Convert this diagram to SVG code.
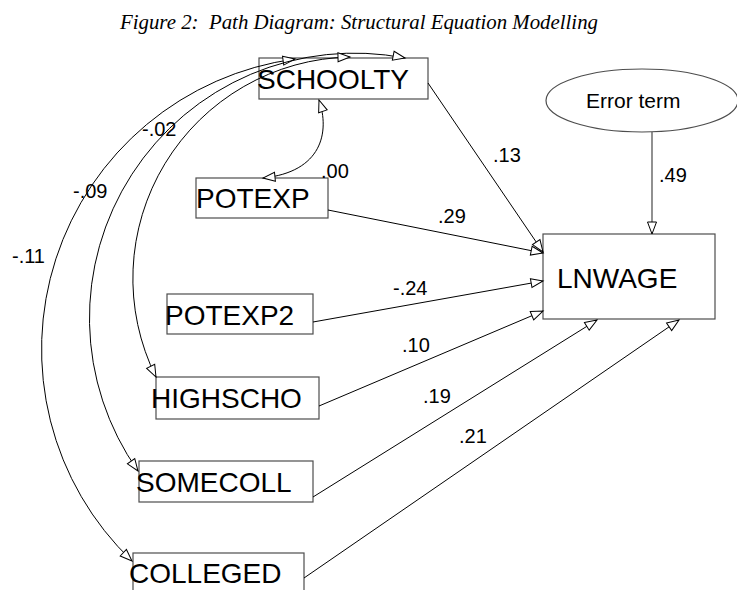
<svg xmlns="http://www.w3.org/2000/svg" width="737" height="590" viewBox="0 0 737 590">
<style>
.bg{fill:#fff}
.box{fill:#fff;stroke:#4d4d4d;stroke-width:1.2}
.nt{font-family:"Liberation Sans",Arial,sans-serif;font-size:28px;fill:#000}
.et{font-family:"Liberation Sans",Arial,sans-serif;font-size:21px;fill:#000}
.lb{font-family:"Liberation Sans",Arial,sans-serif;font-size:20px;fill:#000}
.ttl{font-family:"Liberation Serif","Times New Roman",serif;font-style:italic;font-size:22px;fill:#000}
.c{fill:none;stroke:#000;stroke-width:1}
.cg{fill:none;stroke:#555;stroke-width:1.3}
</style>
<defs>
<marker id="ah" markerUnits="userSpaceOnUse" markerWidth="14" markerHeight="10" refX="12" refY="4.5" orient="auto-start-reverse" overflow="visible">
<path d="M0,0 L12,4.5 L0,9 Z" fill="#fff" stroke="#000" stroke-width="1"/>
</marker>
</defs>
<rect class="bg" x="0" y="0" width="737" height="590"/>
<text class="ttl" x="120" y="29" xml:space="preserve" textLength="478" lengthAdjust="spacingAndGlyphs">Figure 2:  Path Diagram: Structural Equation Modelling</text>

<g id="nodes">
<g id="SCHOOLTY"><rect class="box" x="259" y="58" width="169" height="41"/><text class="nt" x="257" y="89">SCHOOLTY</text></g>
<g id="POTEXP"><rect class="box" x="196" y="178" width="132" height="40"/><text class="nt" x="196" y="208">POTEXP</text></g>
<g id="POTEXP2"><rect class="box" x="167" y="294" width="146" height="40"/><text class="nt" x="165" y="325">POTEXP2</text></g>
<g id="HIGHSCHO"><rect class="box" x="156" y="377" width="163" height="42"/><text class="nt" x="151" y="408">HIGHSCHO</text></g>
<g id="SOMECOLL"><rect class="box" x="139" y="461" width="174" height="41"/><text class="nt" x="136" y="492">SOMECOLL</text></g>
<g id="COLLEGED"><rect class="box" x="133" y="553" width="171" height="45"/><text class="nt" x="129" y="583">COLLEGED</text></g>
<g id="LNWAGE"><rect class="box" x="543" y="234" width="172" height="85"/><text class="nt" x="557" y="288">LNWAGE</text></g>
<g id="ErrorTerm"><ellipse class="box" cx="642" cy="100.5" rx="96" ry="31.5"/><text class="et" x="586" y="108">Error term</text></g>
</g>

<g id="connectors">
<path class="c" d="M428,83 L543,252" marker-end="url(#ah)"/>
<path class="c" d="M328,210 L543,253" marker-end="url(#ah)"/>
<path class="c" d="M313,322 L543,281" marker-end="url(#ah)"/>
<path class="c" d="M319,406 L543,311" marker-end="url(#ah)"/>
<path class="c" d="M313,497 L597,320" marker-end="url(#ah)"/>
<path class="c" d="M304,578 L679,320" marker-end="url(#ah)"/>
<path class="cg" d="M652,132 L652,234" marker-end="url(#ah)"/>
<path class="c" d="M132,561 A293,293 0 0 1 295,59" marker-start="url(#ah)" marker-end="url(#ah)"/>
<path class="c" d="M138,471 A265,265 0 0 1 405,58" marker-start="url(#ah)" marker-end="url(#ah)"/>
<path class="c" d="M156,377 A221.5,221.5 0 0 1 350,57" marker-start="url(#ah)" marker-end="url(#ah)"/>
<path class="c" d="M319,100 C330,132 322,172 263,178" marker-start="url(#ah)" marker-end="url(#ah)"/>
</g>

<g id="labels">
<text class="lb" x="493" y="162">.13</text>
<text class="lb" x="659" y="182">.49</text>
<text class="lb" x="438" y="223">.29</text>
<text class="lb" x="393" y="295">-.24</text>
<text class="lb" x="402" y="352">.10</text>
<text class="lb" x="423" y="403">.19</text>
<text class="lb" x="459" y="443">.21</text>
<text class="lb" x="321" y="178">.00</text>
<text class="lb" x="142" y="136">-.02</text>
<text class="lb" x="73" y="198">-.09</text>
<text class="lb" x="12" y="263">-.11</text>
</g>
</svg>
